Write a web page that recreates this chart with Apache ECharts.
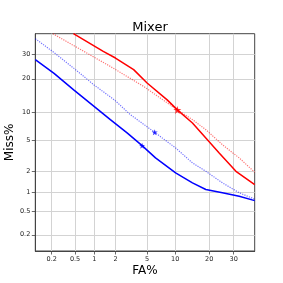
<!DOCTYPE html>
<html>
<head>
<meta charset="utf-8">
<script src="https://cdn.jsdelivr.net/npm/echarts@6/dist/echarts.min.js"></script>
<style>html,body{margin:0;padding:0;background:#fff;}#c{width:283px;height:283px;}</style>
</head>
<body>
<div id="c"></div>
<script>
// ---- data (percent) ----
const tickValues = [0.2, 0.5, 1, 2, 5, 10, 20, 30];
const tickLabels = ['0.2', '0.5', '1', '2', '5', '10', '20', '30'];
const axisMinPct = 0.1;
const axisMaxPct = 40;

const blueSolidFA   = [0.1, 0.22, 0.48, 1.11, 1.7, 2.85, 4.37, 6.23, 10.1, 14.5, 18.8, 25.1, 32.5, 40];
const blueSolidMiss = [27.7, 22.0, 16.1, 10.8, 8.45, 6.07, 4.32, 3.04, 1.92, 1.39, 1.11, 0.99, 0.875, 0.75];

const blueDotFA   = [0.1, 0.22, 0.48, 0.99, 1.93, 3.14, 6.1, 10.1, 14.5, 18.8, 25.1, 32.5, 40];
const blueDotMiss = [37.5, 30.9, 24.0, 17.8, 13.2, 9.5, 6.17, 4.05, 2.62, 2.02, 1.39, 0.99, 0.79];

const redSolidFA   = [0.47, 1.35, 2.0, 3.45, 5.0, 8.3, 10.5, 14.5, 18.8, 23.8, 31.0, 40];
const redSolidMiss = [40, 31.4, 28.4, 23.5, 18.5, 13.2, 10.6, 7.8, 5.33, 3.52, 2.02, 1.31];

const redDotFA   = [0.21, 1.7, 4.57, 10.5, 14.5, 18.8, 25.1, 32.5, 40];
const redDotMiss = [40, 24.8, 17.3, 10.6, 8.45, 6.6, 4.44, 3.04, 1.96];

const eerRed = [10.5, 10.6];
const eerBlueSolid = [4.37, 4.32];
const eerBlueDot = [6.1, 6.17];

// ---- normal deviate (probit) scale ----
function probit(p) {
  const a = [-3.969683028665376e+01, 2.209460984245205e+02, -2.759285104469687e+02, 1.383577518672690e+02, -3.066479806614716e+01, 2.506628277459239e+00];
  const b = [-5.447609879822406e+01, 1.615858368580409e+02, -1.556989798598866e+02, 6.680131188771972e+01, -1.328068155288572e+01];
  const c = [-7.784894002430293e-03, -3.223964580411365e-01, -2.400758277161838e+00, -2.549671664986412e+00, 4.374664141464968e+00, 2.938163982698783e+00];
  const d = [7.784695709041462e-03, 3.224671290700398e-01, 2.445134137142996e+00, 3.754408661907416e+00];
  const pl = 0.02425, ph = 1 - pl;
  let q, r;
  if (p < pl) {
    q = Math.sqrt(-2 * Math.log(p));
    return (((((c[0]*q+c[1])*q+c[2])*q+c[3])*q+c[4])*q+c[5]) / ((((d[0]*q+d[1])*q+d[2])*q+d[3])*q+1);
  } else if (p <= ph) {
    q = p - 0.5; r = q * q;
    return (((((a[0]*r+a[1])*r+a[2])*r+a[3])*r+a[4])*r+a[5])*q / (((((b[0]*r+b[1])*r+b[2])*r+b[3])*r+b[4])*r+1);
  } else {
    q = Math.sqrt(-2 * Math.log(1 - p));
    return -(((((c[0]*q+c[1])*q+c[2])*q+c[3])*q+c[4])*q+c[5]) / ((((d[0]*q+d[1])*q+d[2])*q+d[3])*q+1);
  }
}
const tr = v => probit(v / 100);
const pts = (fa, miss) => fa.map((f, i) => [tr(f), tr(miss[i])]);
const tickPos = tickValues.map(tr);
function fmt(v) {
  let best = 0, bd = Infinity;
  tickPos.forEach((t, i) => { const dd = Math.abs(t - v); if (dd < bd) { bd = dd; best = i; } });
  return bd < 1e-6 ? tickLabels[best] : '';
}

const star = 'path://M0,-10L2.35,-3.24L9.51,-3.09L3.8,1.24L5.88,8.09L0,4L-5.88,8.09L-3.8,1.24L-9.51,-3.09L-2.35,-3.24Z';

function axis(name, nameGap) {
  return {
    type: 'value',
    min: tr(axisMinPct),
    max: tr(axisMaxPct),
    name: name,
    nameLocation: 'middle',
    nameGap: nameGap,
    nameMoveOverlap: false,
    nameTextStyle: { fontFamily: 'DejaVu Sans', fontSize: 12, color: '#000' },
    axisLine: { show: true, onZero: false, lineStyle: { color: '#444', width: 1 } },
    axisTick: { show: true, customValues: tickPos, length: 3.5, lineStyle: { color: '#444', width: 0.8 } },
    axisLabel: { show: true, customValues: tickPos, formatter: fmt, fontFamily: 'DejaVu Sans', fontSize: 6.5, color: '#222', margin: 5 },
    splitLine: { show: true, lineStyle: { color: '#d3d3d3', width: 1 } }
  };
}

const chart = echarts.init(document.getElementById('c'), null, { renderer: 'canvas' });
chart.setOption({
  animation: false,
  backgroundColor: '#fff',
  title: {
    text: 'Mixer', left: 145, top: 16, textAlign: 'center',
    textStyle: { fontFamily: 'DejaVu Sans', fontSize: 13, fontWeight: 'normal', color: '#000' }
  },
  grid: { left: 35.3, right: 28.3, top: 33.7, bottom: 32, containLabel: false, outerBoundsMode: 'none',
          show: true, borderColor: '#444', borderWidth: 1, backgroundColor: 'transparent' },
  xAxis: axis('FA%', 14),
  yAxis: axis('Miss%', 19),
  series: [
    { type: 'line', data: pts(redDotFA, redDotMiss), showSymbol: false, clip: true,
      lineStyle: { color: 'rgba(255,0,0,0.55)', width: 1.2, type: [1.2, 1.2] }, z: 3 },
    { type: 'line', data: pts(redSolidFA, redSolidMiss), showSymbol: false, clip: true,
      lineStyle: { color: '#ff0000', width: 1.5 }, z: 4 },
    { type: 'line', data: pts(blueDotFA, blueDotMiss), showSymbol: false, clip: true,
      lineStyle: { color: 'rgba(0,0,255,0.55)', width: 1.2, type: [1.2, 1.2] }, z: 3 },
    { type: 'line', data: pts(blueSolidFA, blueSolidMiss), showSymbol: false, clip: true,
      lineStyle: { color: '#0000ff', width: 1.5 }, z: 4 },
    { type: 'scatter', data: [[tr(eerRed[0]), tr(eerRed[1])]], symbol: star, symbolSize: 8,
      itemStyle: { color: '#ff0000' }, z: 6 },
    { type: 'scatter', data: [[tr(eerBlueSolid[0]), tr(eerBlueSolid[1])], [tr(eerBlueDot[0]), tr(eerBlueDot[1])]],
      symbol: star, symbolSize: 6, itemStyle: { color: '#0000ff' }, z: 6 }
  ]
});
</script>
</body>
</html>
